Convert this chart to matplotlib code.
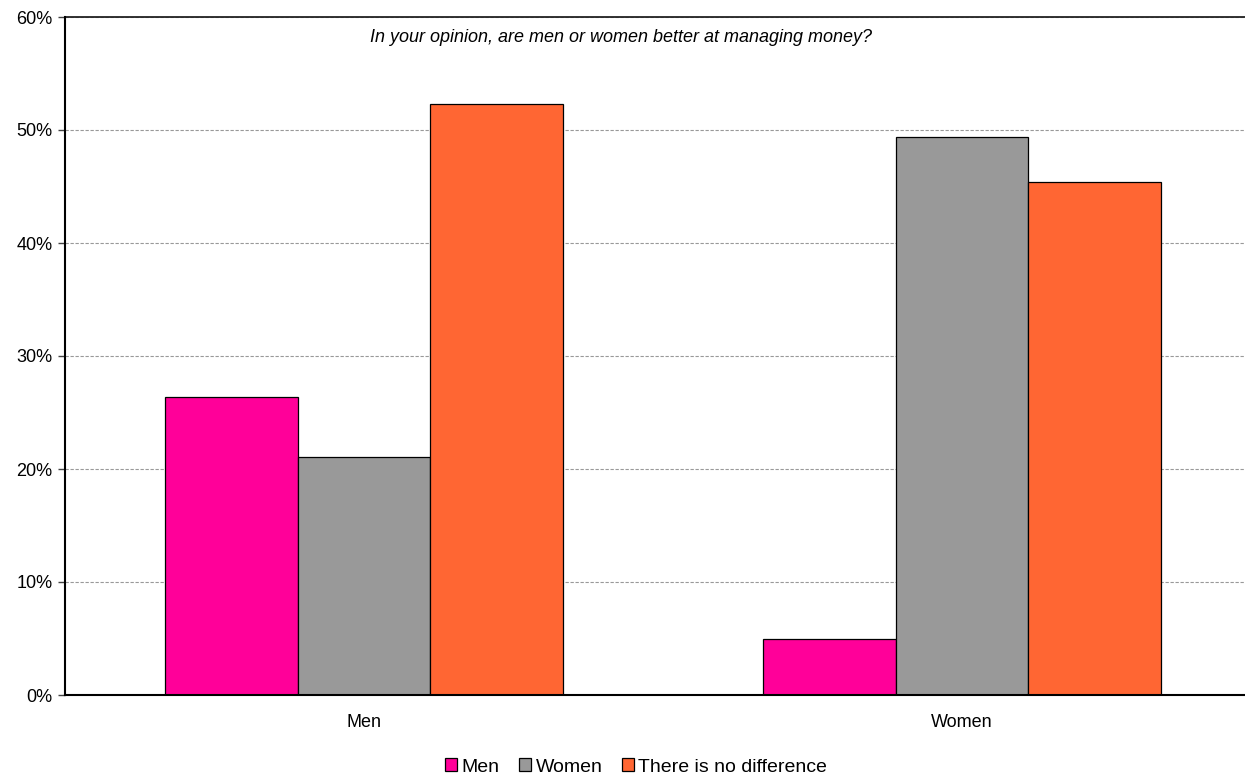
import matplotlib
matplotlib.use('Agg')
import matplotlib.pyplot as plt
import numpy as np

plt.rcParams['font.family'] = ['Liberation Sans', 'DejaVu Sans']

# respondent groups and answers (share of answers)
kategorie = ['Men', 'Women']
serie = ['Men', 'Women', 'There is no difference']
wartosci_men = [26.4, 5.0]
wartosci_women = [21.1, 49.4]
wartosci_brak = [52.3, 45.4]
kolory = ['#FF0099', '#999999', '#FF6633']

fig = plt.figure(figsize=(12.45, 7.76), dpi=100)
ax = fig.add_axes([65 / 1245, 1 - 695 / 776, 1 - 65 / 1245, (695 - 17) / 776])

x = np.arange(len(kategorie))
szer = 0.222
for i, (dane, kolor, nazwa) in enumerate(zip([wartosci_men, wartosci_women, wartosci_brak], kolory, serie)):
    ax.bar(x + (i - 1) * szer, dane, szer, color=kolor, edgecolor='black',
           linewidth=0.9, label=nazwa, zorder=3)

ax.set_xlim(-0.5, 1.473)
ax.set_ylim(0, 60)
ax.set_yticks(range(0, 61, 10))
ax.set_yticklabels(['%d%%' % v for v in range(0, 61, 10)], fontsize=13)
ax.set_xticks(x)
ax.set_xticklabels(kategorie, fontsize=13)
ax.tick_params(axis='x', length=0, pad=14)
ax.tick_params(axis='y', length=5, width=1, color='#444444', pad=4)

ax.grid(axis='y', color='#999999', linestyle=(0, (3, 1.5)), linewidth=0.8, zorder=0)
ax.axhline(60, color='#222222', linewidth=1.3, zorder=2, clip_on=False)
for s in ['top', 'right']:
    ax.spines[s].set_visible(False)
for s in ['left', 'bottom']:
    ax.spines[s].set_linewidth(1.5)
    ax.spines[s].set_zorder(4)

fig.text(370 / 1245, 1 - 38 / 776, 'In your opinion, are men or women better at managing money?',
         fontsize=13, style='italic', va='center', ha='left')

fig.legend(loc='center', bbox_to_anchor=(0.511, 1 - 767 / 776), ncol=3, frameon=False,
           fontsize=14, handlelength=0.6, handleheight=0.6, handletextpad=0.25,
           columnspacing=1.0)

fig.savefig('out.png', dpi=100)
